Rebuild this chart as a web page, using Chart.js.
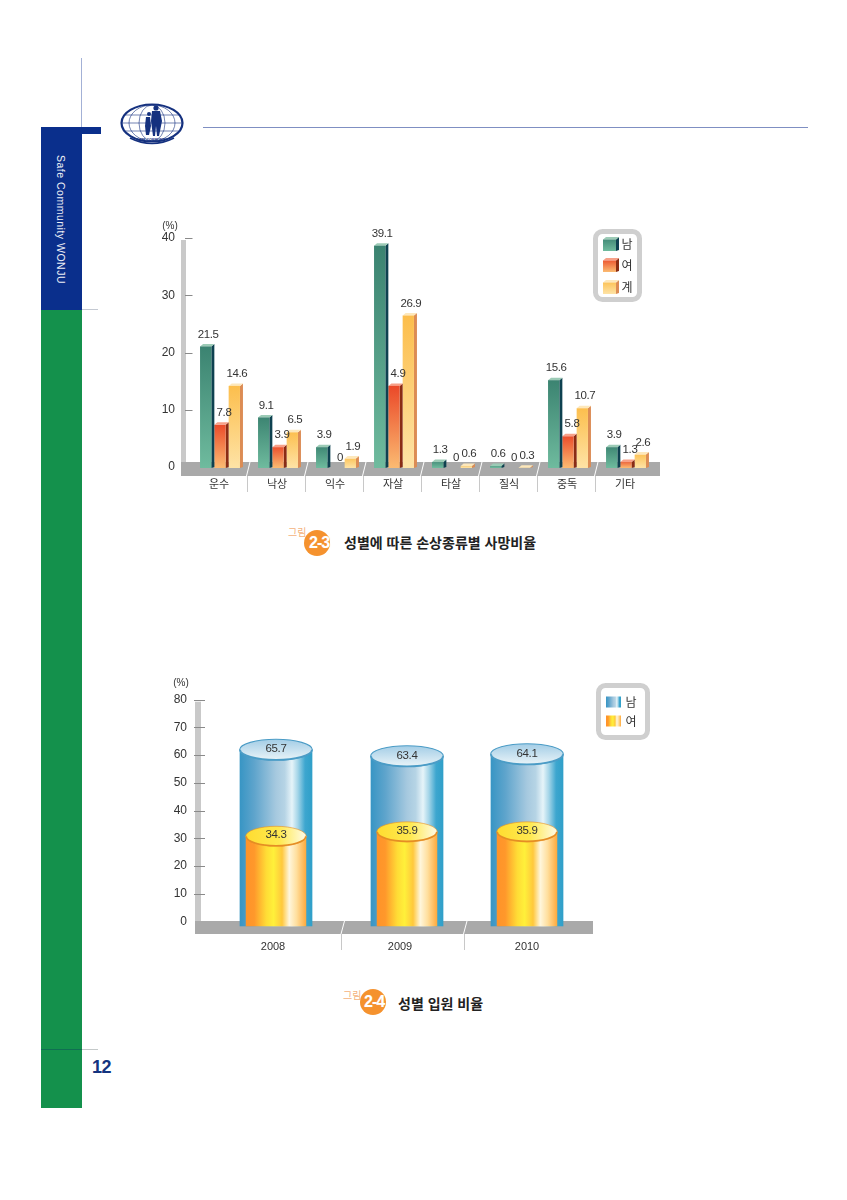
<!DOCTYPE html>
<html lang="ko">
<head>
<meta charset="utf-8">
<title>Safe Community WONJU 12</title>
<script src="https://cdn.jsdelivr.net/npm/chart.js@4/dist/chart.umd.min.js"></script>
<style>
  html, body { margin: 0; padding: 0; background: #fff; }
  body { position: relative; width: 847px; height: 1200px; overflow: hidden;
         font-family: "Liberation Sans", "Noto Sans CJK KR", sans-serif; }
  .abs { position: absolute; }
  canvas { position: absolute; }
  .side-title { position: absolute; left: 61px; top: 155px; color: #eef0f6; font-size: 10.5px; white-space: nowrap;
                transform-origin: 0 0; transform: rotate(90deg) translateY(-50%); letter-spacing: 0.5px; }
  .page-no { position: absolute; left: 92px; top: 1057px; font-size: 18px; font-weight: bold; color: #14347f; letter-spacing: -0.5px; }
  .cap-small { position: absolute; color: #f4b27c; font-size: 10px; font-family: "Noto Sans CJK KR"; line-height: 12px; }
  .cap-dot { position: absolute; width: 26px; height: 26px; border-radius: 50%; background: #f5922e; }
  .cap-num { position: absolute; color: #fff; font-weight: bold; font-size: 16px; line-height: 18px; letter-spacing: -1px;
             text-shadow: 0 0 1px #f5b27a; }
  .cap-title { position: absolute; font-family: "Noto Sans CJK KR"; font-weight: 700; font-size: 14px; line-height: 18px; color: #222; white-space: nowrap; }
</style>
</head>
<body>
<!-- page furniture -->
<div class="abs" style="left:81px;top:58px;width:1px;height:70px;background:#a3b1d6"></div>
<div class="abs" style="left:41px;top:127px;width:41px;height:183px;background:#0a2f8c"></div>
<div class="abs" style="left:82px;top:127px;width:19px;height:7px;background:#0a2f8c"></div>
<div class="abs" style="left:41px;top:310px;width:41px;height:798px;background:#14914c"></div>
<div class="abs" style="left:82px;top:309px;width:16px;height:1px;background:#c4c9d2"></div>
<div class="abs" style="left:41px;top:1049px;width:41px;height:1px;background:#0f6f52"></div>
<div class="abs" style="left:82px;top:1049px;width:16px;height:1px;background:#c4c9c9"></div>
<div class="abs" style="left:203px;top:127px;width:605px;height:1px;background:#7f8fc2"></div>
<div class="side-title">Safe Community WONJU</div>
<div class="page-no">12</div>

<svg class="abs" style="left:118px;top:100px" width="68" height="48" viewBox="0 0 68 48">
  <g fill="none" stroke="#15317f">
    <ellipse cx="34" cy="23" rx="30.5" ry="18.5" stroke-width="2.2"/>
    <g stroke-width="0.6">
      <ellipse cx="34" cy="23" rx="23" ry="18"/>
      <ellipse cx="34" cy="23" rx="13" ry="18"/>
      <path d="M6 15H62M4 23H64M6 31H62"/>
    </g>
    <path d="M12 38Q34 49 56 38" stroke-width="1.6"/>
  </g>
  <g fill="#15317f">
    <circle cx="38" cy="8" r="2.6"/><circle cx="31" cy="14" r="2"/>
    <path d="M34 11h8l2 10-3 15h-2l-1-10-1 10h-2l-2-15z"/>
    <path d="M28 17h4l1 9-2 9h-3l-1-9z"/>
  </g>
  <text x="34" y="41" text-anchor="middle" font-size="3.4" font-weight="bold" fill="#15317f">SAFE COMMUNITY</text>
</svg>

<canvas id="injury-chart" width="530" height="290" style="left:150px;top:210px"></canvas>
<canvas id="admission-chart" width="490" height="290" style="left:170px;top:670px"></canvas>

<div class="cap-small" style="left:288px;top:526px">그림</div>
<div class="cap-dot" style="left:304px;top:530px"></div>
<div class="cap-num" style="left:309px;top:534px">2-3</div>
<div class="cap-title" style="left:344px;top:533px">성별에 따른 손상종류별 사망비율</div>

<div class="cap-small" style="left:343px;top:989px">그림</div>
<div class="cap-dot" style="left:360px;top:989px"></div>
<div class="cap-num" style="left:364px;top:993px">2-4</div>
<div class="cap-title" style="left:398px;top:994px">성별 입원 비율</div>

<script>
const injuryTypes = ["운수", "낙상", "익수", "자살", "타살", "질식", "중독", "기타"];
const injuryMale = [21.5, 9.1, 3.9, 39.1, 1.3, 0.6, 15.6, 3.9];
// the printed label on 자살/여 says 4.9 but its bar is drawn about 14.6 high, so bar and label stay separate
const injuryFemale = [7.8, 3.9, 0, 14.6, 0, 0, 5.8, 1.3];
const injuryTotal = [14.6, 6.5, 1.9, 26.9, 0.6, 0.3, 10.7, 2.6];
const injuryMaleLabels = ["21.5", "9.1", "3.9", "39.1", "1.3", "0.6", "15.6", "3.9"];
const injuryFemaleLabels = ["7.8", "3.9", "0", "4.9", "0", "0", "5.8", "1.3"];
const injuryTotalLabels = ["14.6", "6.5", "1.9", "26.9", "0.6", "0.3", "10.7", "2.6"];
const injuryTicks = [0, 10, 20, 30, 40];

const years = ["2008", "2009", "2010"];
const admitMale = [65.7, 63.4, 64.1];
const admitFemale = [34.3, 35.9, 35.9];
const admitMaleLabels = ["65.7", "63.4", "64.1"];
const admitFemaleLabels = ["34.3", "35.9", "35.9"];
const admitTicks = [0, 10, 20, 30, 40, 50, 60, 70, 80];

const seriesNames = ["남", "여", "계"];

const labelFont = '11.5px "Liberation Sans", "Noto Sans CJK KR", sans-serif';
const textColor = "#333";

const boxLooks = [
  { top: "#9ccbb6", side: "#0e4150", front: ["#3a8270", "#6fbb9e"] },
  { top: "#f7a088", side: "#8a2c14", front: ["#ea4526", "#fbbb72"] },
  { top: "#fde8bc", side: "#dc8c54", front: ["#fcbd4a", "#fee3a6"] },
];
const tubeLooks = [
  {
    stops: [[0, "#3795c4"], [0.2, "#5ea4cc"], [0.5, "#a6c9df"], [0.62, "#b6d4e5"], [0.72, "#e6f4f9"], [0.8, "#a5d5e8"], [0.9, "#3da6cf"], [1, "#2f9fc8"]],
    cap: ["#a3cde6", "#eaf4f8"], rim: "#4b9cc6",
  },
  {
    stops: [[0, "#ff9329"], [0.14, "#ff982b"], [0.34, "#ffdc36"], [0.46, "#fff03a"], [0.6, "#ffc83c"], [0.72, "#fff6dc"], [0.84, "#ffdf9e"], [1, "#ffa93b"]],
    cap: ["#ffdc30", "#fff3b0"], rim: "#e58d24", capAcross: true,
  },
];

function gradient(ctx, x0, y0, x1, y1, stops) {
  const g = ctx.createLinearGradient(x0, y0, x1, y1);
  stops.forEach((s) => g.addColorStop(s[0], s[1]));
  return g;
}

function poly(ctx, pts, fill) {
  ctx.fillStyle = fill;
  ctx.beginPath();
  pts.forEach((p, i) => (i ? ctx.lineTo(p[0], p[1]) : ctx.moveTo(p[0], p[1])));
  ctx.closePath();
  ctx.fill();
}

// a small box: front face, dark side face, lighter lid
function drawBox(ctx, left, width, top, bottom, look) {
  const d = 3;
  const lid = 2.5;
  const right = left + width;
  poly(ctx, [[right - d, top + lid], [right, top], [right, bottom - 1], [right - d, bottom]], look.side);
  poly(ctx, [[left, top + lid], [left + d, top], [right, top], [right - d, top + lid]], look.top);
  ctx.fillStyle = gradient(ctx, 0, top, 0, bottom, [[0, look.front[0]], [1, look.front[1]]]);
  ctx.fillRect(left, top + lid, width - d, bottom - top - lid);
}

// a cylinder whose lid's upper edge sits on the value
function drawTube(ctx, cx, width, top, bottom, look, ry) {
  const left = cx - width / 2;
  ctx.fillStyle = gradient(ctx, left, 0, left + width, 0, look.stops);
  ctx.fillRect(left, top + ry, width, bottom - top - ry);
  ctx.beginPath();
  ctx.ellipse(cx, top + ry, width / 2, ry, 0, 0, Math.PI * 2);
  ctx.fillStyle = look.capAcross
    ? gradient(ctx, left, 0, left + width, 0, [[0, look.cap[0]], [0.55, "#ffe94f"], [1, "#fffbe8"]])
    : gradient(ctx, 0, top, 0, top + ry * 2, [[0, look.cap[0]], [1, look.cap[1]]]);
  ctx.fill();
  ctx.strokeStyle = look.rim;
  ctx.lineWidth = look.capAcross ? 0.6 : 1.1;
  ctx.stroke();
  // heavier lower edge of the lid
  ctx.beginPath();
  ctx.ellipse(cx, top + ry, width / 2 - 0.5, ry - 0.5, 0, 0, Math.PI);
  ctx.lineWidth = 1.6;
  ctx.stroke();
}

function drawFrame(chart, f) {
  const ctx = chart.ctx;
  const { x, y } = chart.scales;
  ctx.save();
  ctx.fillStyle = "#c9c9c9";
  ctx.fillRect(f.wallX, y.getPixelForValue(f.topValue) + 2, f.wallW, f.floorTop - y.getPixelForValue(f.topValue));
  ctx.strokeStyle = "#8a8a8a";
  ctx.lineWidth = 1;
  y.ticks.forEach((t) => {
    const py = Math.round(y.getPixelForValue(t.value)) + 0.5;
    if (py > f.floorTop) return;
    ctx.beginPath();
    ctx.moveTo(f.tickFrom, py);
    ctx.lineTo(f.tickTo, py);
    ctx.stroke();
  });
  ctx.fillStyle = "#a9a9a9";
  ctx.fillRect(f.wallX, f.floorTop, f.floorEnd - f.wallX, f.floorBottom - f.floorTop);
  // slanted cuts through the floor, thin line down between the category names
  for (let i = 0; i < x.ticks.length - 1; i++) {
    const sx = (x.getPixelForTick(i) + x.getPixelForTick(i + 1)) / 2 + f.cutShift[i];
    ctx.strokeStyle = "#fff";
    ctx.beginPath();
    ctx.moveTo(sx + 3.5, f.floorTop);
    ctx.lineTo(sx, f.floorBottom);
    ctx.stroke();
    ctx.strokeStyle = "#c8c8c8";
    ctx.beginPath();
    ctx.moveTo(Math.round(sx) + 0.5, f.floorBottom);
    ctx.lineTo(Math.round(sx) + 0.5, f.floorBottom + 16);
    ctx.stroke();
  }
  ctx.fillStyle = textColor;
  ctx.font = '10px "Liberation Sans", sans-serif';
  ctx.textAlign = "center";
  ctx.textBaseline = "middle";
  ctx.fillText("(%)", f.unitX, f.unitY);
  ctx.restore();
}

function drawLegendBox(ctx, box) {
  ctx.save();
  ctx.lineWidth = 5;
  ctx.strokeStyle = "#cfcfcf";
  ctx.beginPath();
  ctx.roundRect(box.x + 2.5, box.y + 2.5, box.w - 5, box.h - 5, 7);
  ctx.stroke();
  ctx.restore();
}

function legendText(ctx, text, x, y) {
  ctx.fillStyle = textColor;
  ctx.font = '12px "Noto Sans CJK KR", sans-serif';
  ctx.textAlign = "center";
  ctx.textBaseline = "middle";
  ctx.fillText(text, x, y);
}

function valueText(ctx, text, x, y) {
  ctx.fillStyle = textColor;
  ctx.font = labelFont;
  ctx.letterSpacing = "-0.4px";
  ctx.textAlign = "center";
  ctx.textBaseline = "middle";
  ctx.fillText(text, x, y);
  ctx.letterSpacing = "0px";
}

const boxChartPlugin = {
  id: "boxChart",
  beforeDatasetsDraw(chart) {
    drawFrame(chart, {
      wallX: 31, wallW: 5, topValue: 40, floorTop: 252, floorBottom: 266, floorEnd: 510,
      tickFrom: 35, tickTo: 42.5, cutShift: [-4, -4, -4, -4, -4, -4, -4], unitX: 20, unitY: 16,
    });
  },
  beforeDatasetDraw(chart, args) {
    const look = boxLooks[args.index];
    args.meta.data.forEach((bar, i) => {
      if (chart.data.datasets[args.index].data[i] === 0) return;
      drawBox(chart.ctx, bar.x - bar.width / 2, bar.width, bar.y, bar.base + 1, look);
    });
    return false;
  },
  afterDatasetsDraw(chart) {
    const ctx = chart.ctx;
    chart.data.datasets.forEach((ds, d) => {
      chart.getDatasetMeta(d).data.forEach((bar, i) => {
        valueText(ctx, ds.printed[i], bar.x + (d === 1 ? 2.5 : 1), bar.y - 9.5);
      });
    });
    drawLegendBox(ctx, { x: 443, y: 19, w: 49, h: 73 });
    const rows = [34, 55, 77];
    rows.forEach((ry, i) => {
      drawBox(ctx, 453, 16, ry - 7, ry + 7, boxLooks[i]);
      legendText(ctx, seriesNames[i], 477, ry);
    });
  },
};

const tubeShift = [3, 7, 0];
const tubeChartPlugin = {
  id: "tubeChart",
  beforeDatasetsDraw(chart) {
    drawFrame(chart, {
      wallX: 25, wallW: 6, topValue: 80, floorTop: 251, floorBottom: 264, floorEnd: 423,
      tickFrom: 24, tickTo: 35, cutShift: [4.5, 0], unitX: 11, unitY: 13,
    });
  },
  beforeDatasetDraw(chart, args) {
    const look = tubeLooks[args.index];
    args.meta.data.forEach((bar, i) => {
      drawTube(chart.ctx, bar.x + tubeShift[i], bar.width, bar.y, bar.base + 5, look, args.index === 0 ? 10.5 : 10);
    });
    return false;
  },
  afterDatasetsDraw(chart) {
    const ctx = chart.ctx;
    chart.data.datasets.forEach((ds, d) => {
      chart.getDatasetMeta(d).data.forEach((bar, i) => {
        valueText(ctx, ds.printed[i], bar.x + tubeShift[i], bar.y + (d === 0 ? 10 : 9));
      });
    });
    drawLegendBox(ctx, { x: 426, y: 13, w: 54, h: 57 });
    const rows = [32, 51];
    rows.forEach((ry, i) => {
      const left = 436, w = 15;
      ctx.fillStyle = gradient(ctx, left, 0, left + w, 0, tubeLooks[i].stops);
      ctx.fillRect(left, ry - 5.5, w, 11);
      legendText(ctx, seriesNames[i], 461, ry);
    });
  },
};

function scaleOptions(ticks, max, step, yWidth, yPad, xPad, xHeight, labelOffset) {
  return {
    x: {
      grid: { display: false, drawTicks: false },
      border: { display: false },
      ticks: {
        color: textColor, padding: xPad, labelOffset: labelOffset, maxRotation: 0, autoSkip: false,
        font: { family: '"Liberation Sans", "Noto Sans CJK KR", sans-serif', size: 11 },
      },
      afterFit(scale) { scale.height = xHeight; },
    },
    y: {
      min: 0, max: max,
      grid: { display: false, drawTicks: false },
      border: { display: false },
      afterBuildTicks(scale) { scale.ticks = ticks.map((v) => ({ value: v })); },
      ticks: {
        stepSize: step, color: textColor, padding: yPad,
        font: { family: '"Liberation Sans", sans-serif', size: 12 },
      },
      afterFit(scale) { scale.width = yWidth; },
    },
  };
}

new Chart(document.getElementById("injury-chart"), {
  type: "bar",
  data: {
    labels: injuryTypes,
    datasets: [
      { label: seriesNames[0], data: injuryMale, printed: injuryMaleLabels },
      { label: seriesNames[1], data: injuryFemale, printed: injuryFemaleLabels },
      { label: seriesNames[2], data: injuryTotal, printed: injuryTotalLabels },
    ],
  },
  options: {
    responsive: false,
    animation: false,
    events: [],
    categoryPercentage: 0.74,
    barPercentage: 1,
    layout: { padding: { top: 28, right: 23.5, bottom: 0, left: 0 } },
    scales: scaleOptions(injuryTicks, 40, 10, 42.5, 17.5, 11, 33, -2.5),
    plugins: { legend: { display: false }, tooltip: { enabled: false } },
  },
  plugins: [boxChartPlugin],
});

new Chart(document.getElementById("admission-chart"), {
  type: "bar",
  data: {
    labels: years,
    datasets: [
      { label: seriesNames[0], data: admitMale, printed: admitMaleLabels, barThickness: 72.7, grouped: false, order: 2 },
      { label: seriesNames[1], data: admitFemale, printed: admitFemaleLabels, barThickness: 60.5, grouped: false, order: 1 },
    ],
  },
  options: {
    responsive: false,
    animation: false,
    events: [],
    layout: { padding: { top: 28, right: 69.5, bottom: 0, left: 0 } },
    scales: scaleOptions(admitTicks, 80, 10, 39.5, 22.5, 19, 38.7, 0),
    plugins: { legend: { display: false }, tooltip: { enabled: false } },
  },
  plugins: [tubeChartPlugin],
});
</script>
</body>
</html>
